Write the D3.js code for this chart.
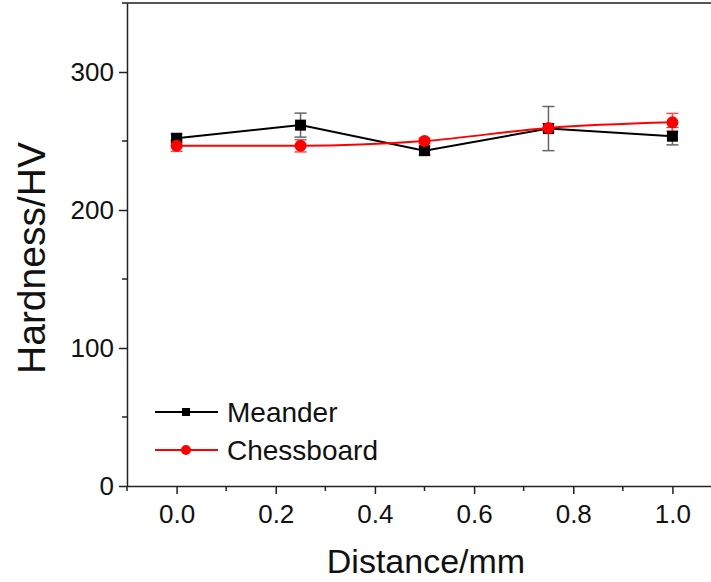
<!DOCTYPE html>
<html><head><meta charset="utf-8">
<script src="https://cdn.jsdelivr.net/npm/d3@7"></script>
<style>body{margin:0;background:#fff}svg{display:block}text{font-family:"Liberation Sans",Arial,sans-serif;fill:#111}</style>
</head><body>
<svg id="c" width="711" height="582"></svg>
<script>
const distance = [0.0, 0.25, 0.5, 0.75, 1.0];
const meander = [252, 261.5, 243, 259, 253.5];
const meanderErr = [3, 8.7, 3, 16, 6.3];
const chessboard = [246.5, 246.5, 250, 259.5, 263.5];
const chessboardErr = [4, 4.4, 2, 3, 6.5];
const xTicks = [0.0, 0.2, 0.4, 0.6, 0.8, 1.0];
const yTicks = [0, 100, 200, 300];
const seriesNames = ["Meander", "Chessboard"];

const svg = d3.select("#c");
const x = d3.scaleLinear().domain([-0.1, 1.1]).range([127, 722]);
const y = d3.scaleLinear().domain([0, 350]).range([486, 3]);

// top border artifact
svg.append("line").attr("x1",122).attr("x2",711).attr("y1",3).attr("y2",3).attr("stroke","#555").attr("stroke-width",2);

// axes
const xAxis = d3.axisBottom(x).tickValues(xTicks).tickFormat(d3.format(".1f")).tickSize(8).tickSizeOuter(0);
const gx = svg.append("g").attr("transform","translate(0,486)").call(xAxis);
gx.select(".domain").attr("stroke","#222").attr("stroke-width",1.5);
gx.selectAll(".tick line").attr("stroke","#222").attr("stroke-width",1.5);
gx.selectAll(".tick text").attr("font-size",26).attr("y",15).attr("dy","0.85em").style("font-family","Liberation Sans, Arial");
const xMinor = d3.range(-0.1, 1.11, 0.2).map(v=>+v.toFixed(2));
gx.selectAll(".minor").data(xMinor).enter().append("line")
  .attr("x1",d=>x(d)).attr("x2",d=>x(d)).attr("y1",0).attr("y2",5).attr("stroke","#222").attr("stroke-width",1.5);

const yAxis = d3.axisLeft(y).tickValues(yTicks).tickSize(8).tickSizeOuter(0);
const gy = svg.append("g").attr("transform","translate(127,0)").call(yAxis);
gy.select(".domain").attr("stroke","#222").attr("stroke-width",1.5);
gy.selectAll(".tick line").attr("stroke","#222").attr("stroke-width",1.5);
gy.selectAll(".tick text").attr("font-size",26).attr("x",-13).style("font-family","Liberation Sans, Arial");
gy.selectAll(".minor").data([50,150,250]).enter().append("line")
  .attr("x1",0).attr("x2",-5).attr("y1",d=>y(d)).attr("y2",d=>y(d)).attr("stroke","#222").attr("stroke-width",1.5);

// axis titles
svg.append("text").attr("x",426).attr("y",573).attr("text-anchor","middle").attr("font-size",34).text("Distance/mm");
svg.append("text").attr("transform","translate(45,258) rotate(-90)").attr("text-anchor","middle").attr("font-size",39).text("Hardness/HV");

// error bars
function errBars(vals, errs, color){
  const g = svg.append("g").attr("stroke",color).attr("stroke-width",1.5);
  distance.forEach((d,i)=>{
    const cx = x(d), t = y(vals[i]+errs[i]), b = y(vals[i]-errs[i]);
    g.append("line").attr("x1",cx).attr("x2",cx).attr("y1",t).attr("y2",b);
    g.append("line").attr("x1",cx-6).attr("x2",cx+6).attr("y1",t).attr("y2",t);
    g.append("line").attr("x1",cx-6).attr("x2",cx+6).attr("y1",b).attr("y2",b);
  });
}
errBars(meander, meanderErr, "#666");
errBars(chessboard, chessboardErr, "#f05050");

// lines
const lineM = d3.line().x((d,i)=>x(distance[i])).y(d=>y(d));
const lineC = d3.line().x((d,i)=>x(distance[i])).y(d=>y(d)).curve(d3.curveMonotoneX);
svg.append("path").datum(meander).attr("d",lineM).attr("fill","none").attr("stroke","#000").attr("stroke-width",2);
svg.append("path").datum(chessboard).attr("d",lineC).attr("fill","none").attr("stroke","#f00").attr("stroke-width",2);

// markers
svg.selectAll(".sq").data(meander).enter().append("rect")
  .attr("x",(d,i)=>x(distance[i])-5.5).attr("y",d=>y(d)-5.5).attr("width",11).attr("height",11).attr("fill","#000");
svg.selectAll(".ci").data(chessboard).enter().append("circle")
  .attr("cx",(d,i)=>x(distance[i])).attr("cy",d=>y(d)).attr("r",6).attr("fill","#f00");

// legend
const lg = svg.append("g");
[0,1].forEach(i=>{
  const ly = 412 + i*38;
  const col = i===0 ? "#000" : "#f00";
  lg.append("line").attr("x1",155).attr("x2",218).attr("y1",ly).attr("y2",ly).attr("stroke",col).attr("stroke-width",2);
  if(i===0) lg.append("rect").attr("x",182).attr("y",ly-4).attr("width",8).attr("height",8).attr("fill",col);
  else lg.append("circle").attr("cx",186).attr("cy",ly).attr("r",5).attr("fill",col);
  lg.append("text").attr("x",227).attr("y",ly+10).attr("font-size",28).text(seriesNames[i]);
});
</script>
</body></html>
